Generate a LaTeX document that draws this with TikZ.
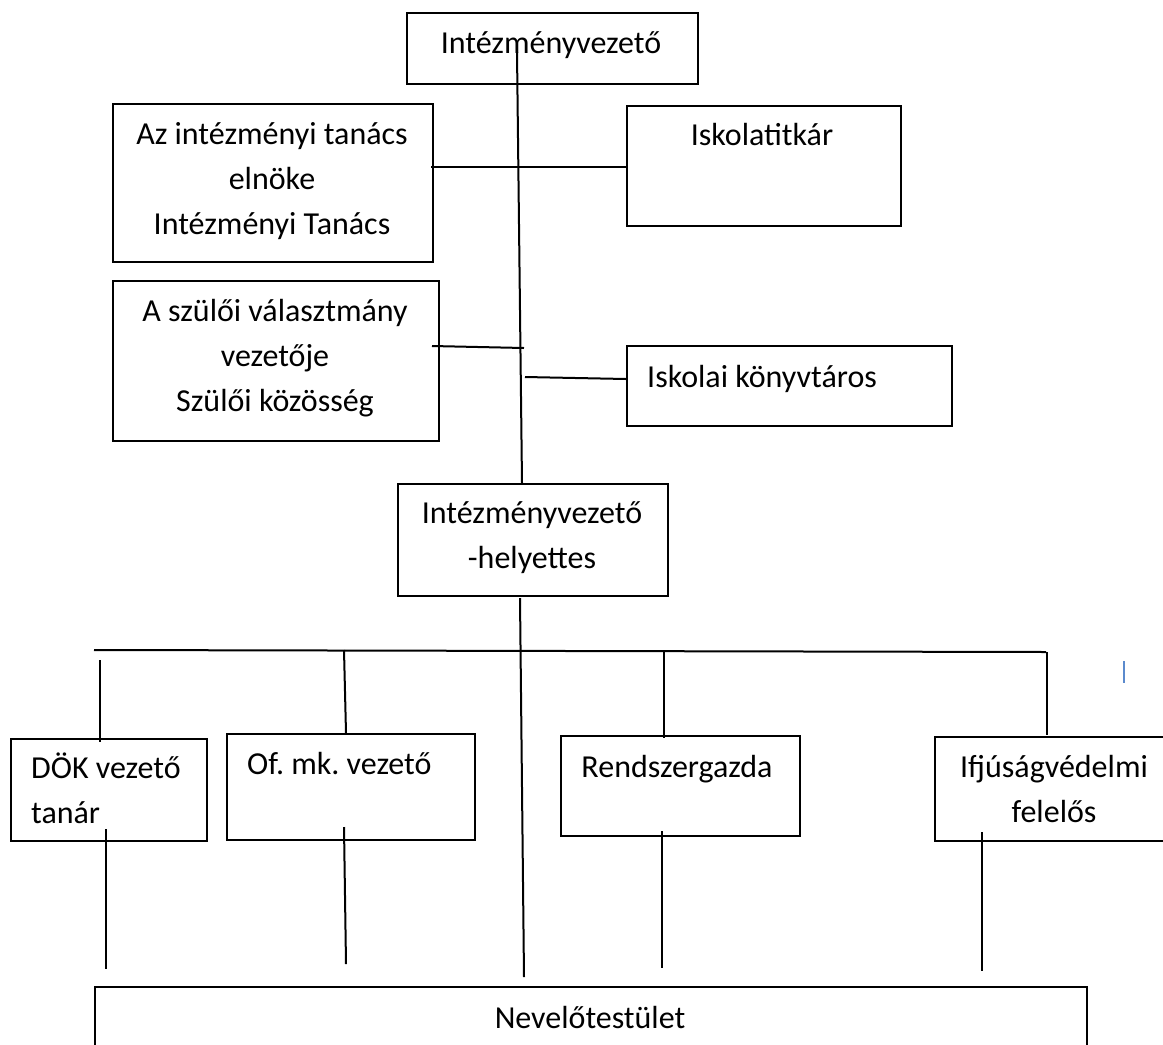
\documentclass[tikz,border=0pt]{standalone}
\usepackage{fontspec}
\setmainfont{Carlito}
\frenchspacing
\definecolor{cursorblue}{RGB}{91,138,205}
\tikzset{
  box/.style={draw, line width=2pt, inner sep=0pt, anchor=north west},
  conn/.style={line width=2pt},
  lbl/.style={inner sep=0pt, font=\fontsize{32}{45}\selectfont, align=center, anchor=base},
  lbll/.style={inner sep=0pt, font=\fontsize{32}{45}\selectfont, align=left, anchor=base west},
  cursor/.style={draw=cursorblue, line width=1.6pt}
}
\begin{document}
\begin{tikzpicture}[x=1pt,y=-1pt]
\useasboundingbox (0,0) rectangle (1163,1045);
\clip (0,0) rectangle (1163,1045);

% boxes
\node[box, minimum width=291pt, minimum height=71pt] (ceo) at (406,12) {};
\node[box, minimum width=320pt, minimum height=158pt] (tanacs) at (112,103) {};
\node[box, minimum width=326pt, minimum height=160pt] (szulo) at (112,280) {};
\node[box, minimum width=274pt, minimum height=120pt] (titkar) at (626,105) {};
\node[box, minimum width=325pt, minimum height=80pt] (konyv) at (626,345) {};
\node[box, minimum width=270pt, minimum height=112pt] (helyettes) at (397,483) {};
\node[box, minimum width=196pt, minimum height=102pt] (dok) at (10,738) {};
\node[box, minimum width=248pt, minimum height=106pt] (ofmk) at (226,733) {};
\node[box, minimum width=239pt, minimum height=100pt] (rendsz) at (560,735) {};
\node[box, minimum width=260pt, minimum height=104pt] (ifju) at (934,736) {};
\node[box, minimum width=992pt, minimum height=100pt] (nevelo) at (94,986) {};

% texts (anchor base = baseline of the last line)
\node[lbl] (ceoT) at (551,53) {Intézményvezető};
\node[lbl] (tanacsT) at (272,234) {Az intézményi tanács\\elnöke\\Intézményi Tanács};
\node[lbl] (szuloT) at (275,411) {A szülői választmány\\vezetője\\Szülői közösség};
\node[lbl] (titkarT) at (762,145) {Iskolatitkár};
\node[lbll] (konyvT) at (647,387) {Iskolai könyvtáros};
\node[lbl] (helyettesT) at (532,568) {Intézményvezető\\-helyettes};
\node[lbll] (dokT) at (31,823) {DÖK vezető\\tanár};
\node[lbll] (ofmkT) at (247,774) {Of. mk. vezető};
\node[lbl] (rendszT) at (677,777) {Rendszergazda};
\node[lbl] (ifjuT) at (1054,822) {Ifjúságvédelmi\\felelős};
\node[lbl] (neveloT) at (590,1028) {Nevelőtestület};

% connector end points
\coordinate (mainA) at (517,52);
\coordinate (mainB) at (522,483);
\coordinate (h1A) at (431,167);
\coordinate (h1B) at (627,167);
\coordinate (h2A) at (432,346);
\coordinate (h2B) at (524,348);
\coordinate (h3A) at (525,377);
\coordinate (h3B) at (626,379);
\coordinate (downA) at (520,598);
\coordinate (downB) at (524,977);
\coordinate (busA) at (94,650);
\coordinate (busB) at (1046,652);
\coordinate (d1A) at (100,660);  \coordinate (d1B) at (100,742);
\coordinate (d2A) at (344,650);  \coordinate (d2B) at (346,733);
\coordinate (d3A) at (664,650);  \coordinate (d3B) at (664,738);
\coordinate (d4A) at (1047,652); \coordinate (d4B) at (1047,735);
\coordinate (u1A) at (106,829);  \coordinate (u1B) at (106,969);
\coordinate (u2A) at (344,827);  \coordinate (u2B) at (346,964);
\coordinate (u3A) at (662,831);  \coordinate (u3B) at (662,968);
\coordinate (u4A) at (982,832);  \coordinate (u4B) at (982,971);
\coordinate (curA) at (1124,661); \coordinate (curB) at (1124,683);

% connectors
\draw[conn] (mainA) -- (mainB);
\draw[conn] (h1A) -- (h1B);
\draw[conn] (h2A) -- (h2B);
\draw[conn] (h3A) -- (h3B);
\draw[conn] (downA) -- (downB);
\draw[conn] (busA) -- (busB);
\draw[conn] (d1A) -- (d1B);
\draw[conn] (d2A) -- (d2B);
\draw[conn] (d3A) -- (d3B);
\draw[conn] (d4A) -- (d4B);
\draw[conn] (u1A) -- (u1B);
\draw[conn] (u2A) -- (u2B);
\draw[conn] (u3A) -- (u3B);
\draw[conn] (u4A) -- (u4B);
\draw[cursor] (curA) -- (curB);
\end{tikzpicture}
\end{document}
